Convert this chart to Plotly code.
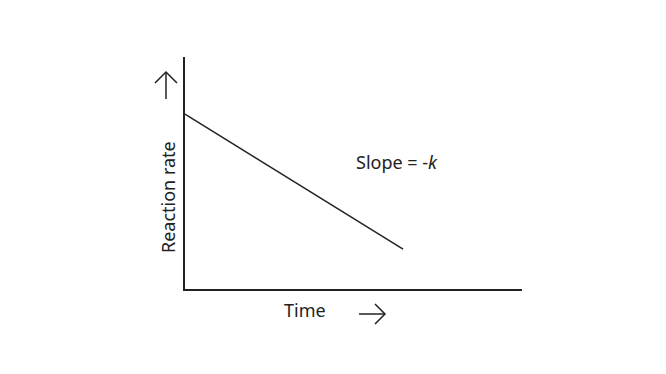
import plotly.graph_objects as go

time = [0.0, 6.47]
rate = [7.54, 1.72]
x_label = "Time"
y_label = "Reaction rate"
slope_label = "Slope = -<i>k</i>"

W, H = 666, 374
L, R, T, B = 185, 144, 57, 85
INK = "#222222"

fig = go.Figure()
fig.add_trace(go.Scatter(x=time, y=rate, mode="lines",
                         line=dict(color=INK, width=1.5),
                         showlegend=False, hoverinfo="skip"))

font = dict(family="Noto Sans", size=18, color=INK)

def px(xp, yp):
    return (xp - L) / (W - L - R), (H - B - yp) / (H - T - B)

anns = []
x, y = px(305, 310)
anns.append(dict(x=x, y=y, text=x_label))
x, y = px(168, 197)
anns.append(dict(x=x, y=y, text=y_label, textangle=-90))
x, y = px(397, 162)
anns.append(dict(x=x, y=y, text=slope_label))
for a in anns:
    a.update(xref="paper", yref="paper", showarrow=False, xanchor="center", yanchor="middle")
    a.setdefault("font", font)

def path(points):
    s = ""
    for i, (xp, yp) in enumerate(points):
        x, y = px(xp, yp)
        s += ("M" if i == 0 else "L") + f"{x:.5f},{y:.5f} "
    return s.strip()

shapes = []
# up arrow (decoration)
shapes.append(dict(type="path", path=path([(166, 99), (166, 72)])))
shapes.append(dict(type="path", path=path([(155, 83), (166, 72), (177, 83)])))
# right arrow (decoration)
shapes.append(dict(type="path", path=path([(359, 314), (385, 314)])))
shapes.append(dict(type="path", path=path([(375, 304), (385, 314), (375, 324)])))
for s in shapes:
    s.update(xref="paper", yref="paper", line=dict(color=INK, width=1.5))

fig.update_layout(
    width=W, height=H,
    margin=dict(l=L, r=R, t=T, b=B),
    paper_bgcolor="white", plot_bgcolor="white",
    annotations=anns, shapes=shapes,
    font=font,
)
fig.update_xaxes(range=[0, 10], showline=True, linecolor=INK, linewidth=2,
                 showgrid=False, zeroline=False, showticklabels=False, ticks="")
fig.update_yaxes(range=[0, 10], showline=True, linecolor=INK, linewidth=2,
                 showgrid=False, zeroline=False, showticklabels=False, ticks="")
fig.write_html("out.html")
